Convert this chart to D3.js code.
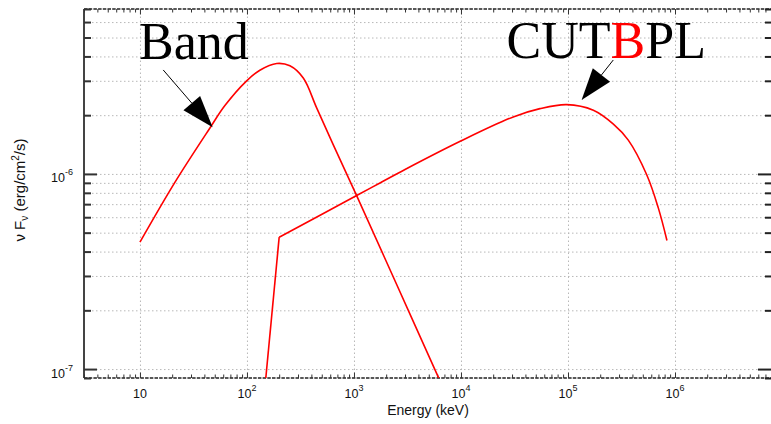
<!DOCTYPE html>
<html><head><meta charset="utf-8">
<script src="https://cdn.jsdelivr.net/npm/d3@7"></script>
<style>
html,body{margin:0;padding:0;background:#fff;}
svg{display:block;}
</style></head><body>
<svg id="chart" width="771" height="424"></svg>
<script>
// Band function spectrum: energy (keV) and νFν (erg/cm²/s)
const bandEnergy = [10, 21.2, 45.1, 62.2, 99.3, 132, 189.6, 252, 336, 448, 641, 1059, 2500, 6138, 8000];
const bandFlux = [4.47e-7, 9.05e-7, 1.72e-6, 2.24e-6, 3.0e-6, 3.4e-6, 3.68e-6, 3.58e-6, 3.1e-6, 2.18e-6, 1.41e-6, 7.74e-7, 2.72e-7, 9.1e-8, 6.59e-8];

// Cut-off broken power law spectrum (sharp break at 200 keV)
const cutbplEnergy = [150, 200, 1059, 1750, 3000, 9840, 30800, 54700, 97200, 172600, 265600, 366000, 544000, 698000, 841000];
const cutbplFlux = [9e-8, 4.74e-7, 7.75e-7, 8.99e-7, 1.054e-6, 1.47e-6, 1.96e-6, 2.16e-6, 2.265e-6, 2.12e-6, 1.8e-6, 1.49e-6, 9.9e-7, 6.7e-7, 4.56e-7];
const cutbplBreakIndex = 1;

// Axis ticks and their labels (base 10, exponent as superscript)
const xMajorTicks = [10, 1e2, 1e3, 1e4, 1e5, 1e6];
const xTickExponents = ["", "2", "3", "4", "5", "6"];
const yMajorTicks = [1e-7, 1e-6];
const yTickExponents = ["-7", "-6"];

const xDomain = [3, 7.89e6];
const yDomain = [9e-8, 7e-6];

const svg = d3.select("#chart");
const plotLeft = 84, plotRight = 771, plotTop = 9, plotBottom = 378;

const x = d3.scaleLog().domain(xDomain).range([plotLeft, plotRight]);
const y = d3.scaleLog().domain(yDomain).range([plotBottom, plotTop]);

// minor tick values: 1..9 × 10^k inside each domain
function logMinors(domain, majors) {
  const out = [];
  const k0 = Math.floor(Math.log10(domain[0])), k1 = Math.ceil(Math.log10(domain[1]));
  for (let k = k0; k <= k1; k++) {
    for (let m = 1; m <= 9; m++) {
      const v = +(m * Math.pow(10, k)).toPrecision(6);
      if (v >= domain[0] * 0.999 && v <= domain[1] * 1.001 &&
          !majors.some(t => Math.abs(t - v) / t < 1e-6)) out.push(v);
    }
  }
  return out;
}
const xMinorTicks = logMinors(xDomain, xMajorTicks);
const yMinorTicks = logMinors(yDomain, yMajorTicks);
const yGridTicks = yMinorTicks.concat(yMajorTicks).filter(v => v > yDomain[0] * 1.01 && v < yDomain[1] * 0.99);

// grid: dotted, horizontal at every y tick, vertical at decades
const gridStyle = g => {
  g.select(".domain").remove();
  g.selectAll("line").attr("stroke", "#b8b8b8").attr("stroke-width", 1).attr("stroke-dasharray", "1.5,2.5");
  g.selectAll("text").remove();
};
svg.append("g").attr("transform", `translate(${plotLeft},0)`)
  .call(d3.axisLeft(y).tickValues(yGridTicks).tickSize(-(plotRight - plotLeft)).tickFormat(""))
  .call(gridStyle);
svg.append("g").attr("transform", `translate(0,${plotBottom})`)
  .call(d3.axisBottom(x).tickValues(xMajorTicks).tickSize(-(plotBottom - plotTop)).tickFormat(""))
  .call(gridStyle);

// frame: solid left edge, dashed top and bottom
svg.append("line").attr("x1", plotLeft).attr("x2", plotLeft).attr("y1", plotTop).attr("y2", plotBottom)
  .attr("stroke", "#444").attr("stroke-width", 2);
[plotTop, plotBottom].forEach(yy => {
  svg.append("line").attr("x1", plotLeft).attr("x2", plotRight).attr("y1", yy).attr("y2", yy)
    .attr("stroke", "#222").attr("stroke-width", 1.4).attr("stroke-dasharray", "3.5,1.2");
});

// tick marks (all pointing inward)
function tickStyle(w, col) {
  return g => {
    g.select(".domain").remove();
    g.selectAll("text").remove();
    g.selectAll("line").attr("stroke", col).attr("stroke-width", w);
  };
}
svg.append("g").attr("transform", `translate(0,${plotBottom})`)
  .call(d3.axisBottom(x).tickValues(xMinorTicks).tickSize(-3.5).tickFormat("")).call(tickStyle(1, "#333"));
svg.append("g").attr("transform", `translate(0,${plotBottom})`)
  .call(d3.axisBottom(x).tickValues(xMajorTicks).tickSize(-5.5).tickFormat("")).call(tickStyle(1, "#333"));
svg.append("g").attr("transform", `translate(0,${plotTop})`)
  .call(d3.axisTop(x).tickValues(xMinorTicks).tickSize(-3.5).tickFormat("")).call(tickStyle(1, "#333"));
svg.append("g").attr("transform", `translate(0,${plotTop})`)
  .call(d3.axisTop(x).tickValues(xMajorTicks).tickSize(-5.5).tickFormat("")).call(tickStyle(1, "#333"));

svg.append("g").attr("transform", `translate(${plotLeft},0)`)
  .call(d3.axisLeft(y).tickValues(yMinorTicks).tickSize(-7).tickFormat("")).call(tickStyle(2, "#333"));
svg.append("g").attr("transform", `translate(${plotLeft},0)`)
  .call(d3.axisLeft(y).tickValues(yMajorTicks).tickSize(-13).tickFormat("")).call(tickStyle(2, "#333"));
svg.append("g").attr("transform", `translate(${plotRight},0)`)
  .call(d3.axisRight(y).tickValues(yMinorTicks).tickSize(-6).tickFormat("")).call(tickStyle(2, "#222"));
svg.append("g").attr("transform", `translate(${plotRight},0)`)
  .call(d3.axisRight(y).tickValues(yMajorTicks).tickSize(-13).tickFormat("")).call(tickStyle(2, "#222"));

// tick labels: "10" with superscript exponent
const labelFont = "'Liberation Sans', Arial, Helvetica, sans-serif";
const xLab = svg.append("g").attr("font-family", labelFont).attr("fill", "#111");
xMajorTicks.forEach((v, i) => {
  const t = xLab.append("text").attr("x", x(v)).attr("y", 398)
    .attr("text-anchor", "middle").attr("font-size", 12.5);
  t.append("tspan").text("10");
  if (xTickExponents[i]) t.append("tspan").attr("dy", -7).attr("font-size", 9).text(xTickExponents[i]);
});
const yLab = svg.append("g").attr("font-family", labelFont).attr("fill", "#111");
yMajorTicks.forEach((v, i) => {
  const t = yLab.append("text").attr("x", 73).attr("y", y(v) + 8.5)
    .attr("text-anchor", "end").attr("font-size", 12.5);
  t.append("tspan").text("10");
  t.append("tspan").attr("dy", -7).attr("font-size", 9).text(yTickExponents[i]);
});

// axis titles
svg.append("text").attr("x", 428).attr("y", 415).attr("text-anchor", "middle")
  .attr("font-family", labelFont).attr("font-size", 14).attr("fill", "#111").text("Energy (keV)");
const yt = svg.append("text").attr("transform", "translate(25,190) rotate(-90)")
  .attr("text-anchor", "middle").attr("font-family", labelFont).attr("font-size", 15).attr("fill", "#111");
yt.append("tspan").text("ν F");
yt.append("tspan").attr("dy", 3).attr("font-size", 10).text("ν");
yt.append("tspan").attr("dy", -3).text(" (erg/cm");
yt.append("tspan").attr("dy", -6).attr("font-size", 10).text("2");
yt.append("tspan").attr("dy", 6).text("/s)");

// spectra: smooth through the points, straight where the model breaks sharply
svg.append("clipPath").attr("id", "plotClip").append("rect")
  .attr("x", plotLeft).attr("y", plotTop).attr("width", plotRight - plotLeft).attr("height", plotBottom - plotTop);
const smooth = d3.line().x(d => x(d[0])).y(d => y(d[1])).curve(d3.curveCatmullRom.alpha(0.5));
const straight = d3.line().x(d => x(d[0])).y(d => y(d[1]));
const bandPts = d3.zip(bandEnergy, bandFlux);
const cutbplPts = d3.zip(cutbplEnergy, cutbplFlux);
const pieces = [
  straight(cutbplPts.slice(0, cutbplBreakIndex + 1)),
  smooth(cutbplPts.slice(cutbplBreakIndex)),
  smooth(bandPts)
];
svg.append("g").attr("clip-path", "url(#plotClip)")
  .selectAll("path").data(pieces).join("path")
  .attr("d", d => d).attr("fill", "none").attr("stroke", "#ff0000").attr("stroke-width", 1.6)
  .attr("stroke-linejoin", "round");

// model labels with arrows (positions in data coordinates)
const serif = "'Liberation Serif', 'Times New Roman', serif";
const notes = [
  { parts: [["Band", "#000"]], textAt: [9.8, 3.88e-6], tail: [16.5, 3.41e-6], tip: [47.8, 1.733e-6] },
  { parts: [["CUT", "#000"], ["B", "#ff0000"], ["PL", "#000"]], textAt: [26700, 3.91e-6], tail: [265000, 3.835e-6], tip: [134000, 2.39e-6] }
];
notes.forEach(n => {
  const t = svg.append("text").attr("x", x(n.textAt[0])).attr("y", y(n.textAt[1]))
    .attr("font-family", serif).attr("font-size", 52);
  n.parts.forEach(p => t.append("tspan").attr("fill", p[1]).text(p[0]));
  const tx = x(n.tail[0]), ty = y(n.tail[1]), px = x(n.tip[0]), py = y(n.tip[1]);
  const len = Math.hypot(px - tx, py - ty), ux = (px - tx) / len, uy = (py - ty) / len;
  const headLen = 32, headHalf = 11;
  const bx = px - ux * headLen, by = py - uy * headLen;
  svg.append("line").attr("x1", tx).attr("y1", ty).attr("x2", bx).attr("y2", by)
    .attr("stroke", "#000").attr("stroke-width", 1);
  svg.append("path").attr("fill", "#000")
    .attr("d", `M${px},${py}L${bx - uy * headHalf},${by + ux * headHalf}L${bx + uy * headHalf},${by - ux * headHalf}Z`);
});
</script>
</body></html>
